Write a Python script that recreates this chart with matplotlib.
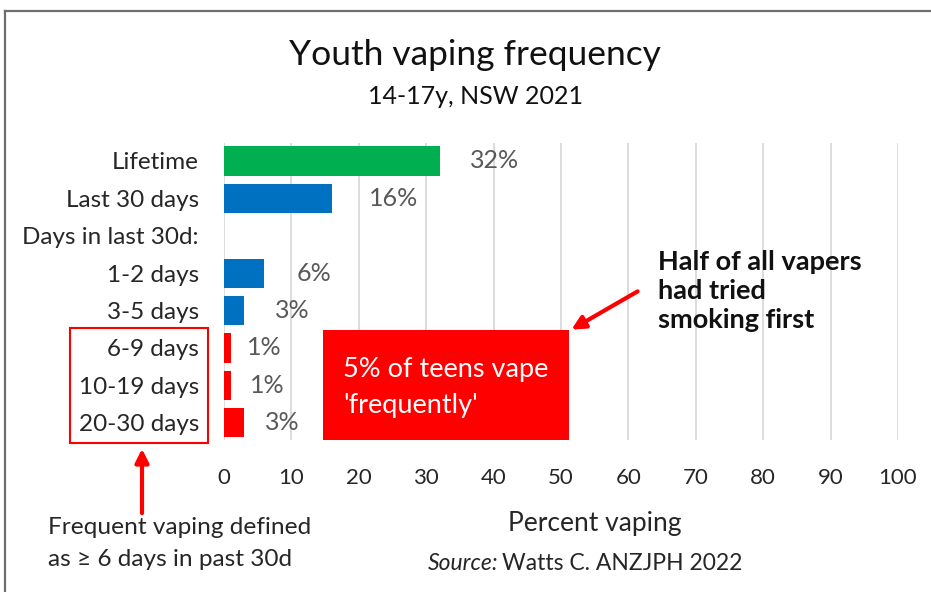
import matplotlib
matplotlib.use("Agg")
import matplotlib.pyplot as plt
from matplotlib.patches import Rectangle, FancyArrowPatch

plt.rcParams['font.family'] = ['Lato', 'DejaVu Sans']

categories = ["Lifetime", "Last 30 days", "Days in last 30d:", "1-2 days",
              "3-5 days", "6-9 days", "10-19 days", "20-30 days"]
values = [32, 16, None, 6, 3, 1, 1, 3]
value_labels = ["32%", "16%", "", "6%", "3%", "1%", "1%", "3%"]
bar_colors = ["#00B050", "#0070C0", "none", "#0070C0", "#0070C0",
              "#FF0000", "#FF0000", "#FF0000"]
label_offsets = [22, 27, 0, 23, 22, 12, 14, 15]  # points past bar end
x_ticks = list(range(0, 101, 10))

W, H = 931, 592
fig = plt.figure(figsize=(W / 100, H / 100), dpi=100)


def fx(x):
    return x / W


def fy(y):
    return 1 - y / H


ax = fig.add_axes([fx(224), fy(440), fx(898) - fx(224), (440 - 143) / H])
ypos = list(range(len(categories)))
for i, (v, c) in enumerate(zip(values, bar_colors)):
    if v is None:
        continue
    ax.barh(i, v, height=0.78, color=c, zorder=3)
    ax.annotate(value_labels[i], xy=(v, i), xytext=(label_offsets[i], 0),
                textcoords="offset points", va="center", ha="left",
                fontsize=18, color="#595959")

ax.set_xlim(0, 100)
ax.set_ylim(7.46, -0.48)
ax.set_yticks(ypos)
ax.set_yticklabels(categories, fontsize=17.5, color="#262626")
ax.set_xticks(x_ticks)
ax.set_xticklabels([str(t) for t in x_ticks], fontsize=16, color="#262626")
ax.tick_params(axis="y", length=0, pad=18)
ax.tick_params(axis="x", length=0, pad=20)
ax.grid(axis="x", color="#d9d9d9", linewidth=1.3, zorder=0)
for s in ax.spines.values():
    s.set_visible(False)

# Red callout box with white text
ax.add_patch(Rectangle((14.7, 4.515), 51.2 - 14.7, 7.46 - 4.515,
                       facecolor="#FF0000", edgecolor="none", zorder=4))
fig.text(fx(343), fy(369), "5% of teens vape", color="white", fontsize=19.5,
         va="center", ha="left")
fig.text(fx(343), fy(405), "'frequently'", color="white", fontsize=19.5,
         va="center", ha="left")

# Arrow from the smoking note to the box corner
fig.patches.append(FancyArrowPatch((fx(640), fy(290)), (fx(569), fy(331)),
                                   transform=fig.transFigure, arrowstyle="-|>",
                                   mutation_scale=20, color="#FF0000",
                                   linewidth=3))
for i, line in enumerate(["Half of all vapers", "had tried", "smoking first"]):
    fig.text(fx(658), fy(262 + 29 * i), line, fontsize=19.5, fontweight="bold",
             color="#111111", va="center", ha="left")

# Box round the frequent-vaping categories and arrow to the footnote
fig.patches.append(Rectangle((fx(70), fy(443)), fx(208) - fx(70),
                             (443 - 328) / H, transform=fig.transFigure,
                             facecolor="none", edgecolor="#FF0000",
                             linewidth=1.5))
fig.patches.append(FancyArrowPatch((fx(142), fy(516)), (fx(142), fy(446)),
                                   transform=fig.transFigure, arrowstyle="-|>",
                                   mutation_scale=20, color="#FF0000",
                                   linewidth=3))
fig.text(fx(48), fy(527), "Frequent vaping defined", fontsize=17.6,
         color="#262626", va="center", ha="left")
fig.text(fx(48), fy(560), "as \u2265 6 days in past 30d", fontsize=17.6,
         color="#262626", va="center", ha="left")

# Titles and axis caption
fig.text(fx(475), fy(55), "Youth vaping frequency", fontsize=25.5,
         color="#111111", ha="center", va="center")
fig.text(fx(475), fy(97), "14-17y, NSW 2021", fontsize=18,
         color="#111111", ha="center", va="center")
fig.text(fx(595), fy(523), "Percent vaping", fontsize=19,
         color="#262626", ha="center", va="center")
src = fig.text(fx(428), fy(563), "Source:", fontsize=16.5, style="italic",
               color="#262626", ha="left", va="center")
fig.canvas.draw()
bb = src.get_window_extent()
fig.text(bb.x1 / W + 4 / W, fy(563), "Watts C. ANZJPH 2022", fontsize=16.5,
         color="#262626", ha="left", va="center")

# Outer frame (top and left edges)
fig.add_artist(plt.Line2D([fx(5), 1], [fy(11), fy(11)], color="#6f6f6f",
                          linewidth=1.6))
fig.add_artist(plt.Line2D([fx(5), fx(5)], [fy(11), 0], color="#6f6f6f",
                          linewidth=1.6))

fig.savefig("out.png", dpi=100, facecolor="white")
